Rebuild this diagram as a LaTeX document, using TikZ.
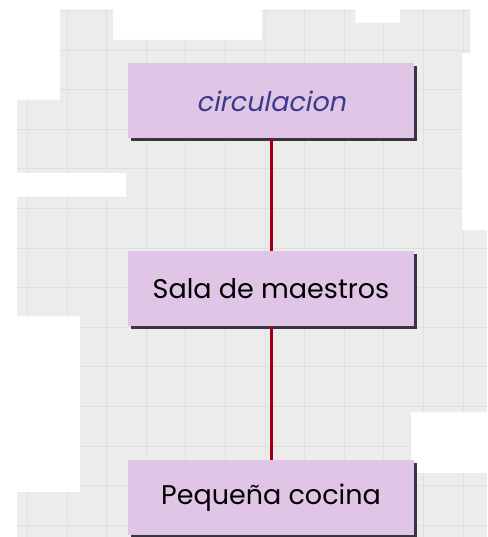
\documentclass[tikz,border=0pt]{standalone}
\usepackage{fontspec}
\setmainfont{Poppins}[AutoFakeSlant=0.2]
\definecolor{bggrey}{HTML}{ECECEC}
\definecolor{gridc}{HTML}{DFDFDF}
\definecolor{boxfill}{HTML}{E1C5E6}
\definecolor{shadowc}{HTML}{3A3342}
\definecolor{linkred}{HTML}{A0000F}
\definecolor{titleblue}{HTML}{3B3A8C}
\tikzset{
  boxnode/.style={rectangle, fill=boxfill, minimum width=286pt, minimum height=75pt,
    inner sep=0pt, font=\fontsize{27}{31}\selectfont,
    preaction={fill=shadowc, transform canvas={shift={(2.5pt,-2.5pt)}}}},
  link/.style={draw=linkred, line width=3pt}
}
\begin{document}
\begin{tikzpicture}[x=1pt,y=-1pt]
\useasboundingbox (0,0) rectangle (487,537);
\fill[white] (0,0) rectangle (487,537);
\begin{scope}
\path[clip] (60,10) -- (113,10) -- (113,40) -- (262,40) -- (262,10) -- (355,10) -- (355,23)
  -- (400,23) -- (400,10) -- (470,10) -- (470,53) -- (462,53) -- (462,230) -- (487,230)
  -- (487,412) -- (411,412) -- (411,473) -- (487,473) -- (487,537) -- (17,537) -- (17,492)
  -- (80,492) -- (80,316) -- (17,316) -- (17,197) -- (126,197) -- (126,173) -- (17,173)
  -- (17,100) -- (60,100) -- cycle;
\fill[bggrey] (0,0) rectangle (487,537);
\foreach \i in {0,...,12} {
  \draw[gridc, line width=0.8pt] ({27.4+39.6*\i},0) -- ({27.4+39.6*\i},537);
}
\foreach \j in {0,...,13} {
  \draw[gridc, line width=0.8pt] (0,{10.4+39.6*\j}) -- (487,{10.4+39.6*\j});
}
\end{scope}
\node[boxnode, font=\fontsize{27}{31}\selectfont\itshape, text=titleblue] (circ) at (271,101) {circulacion};
\node[boxnode] (sala) at (271,288.5) {Sala de maestros};
\node[boxnode] (coc) at (271,497.5) {Pequeña cocina};
\draw[link] (circ.south) -- (sala.north);
\draw[link] (sala.south) -- (coc.north);
\end{tikzpicture}
\end{document}
